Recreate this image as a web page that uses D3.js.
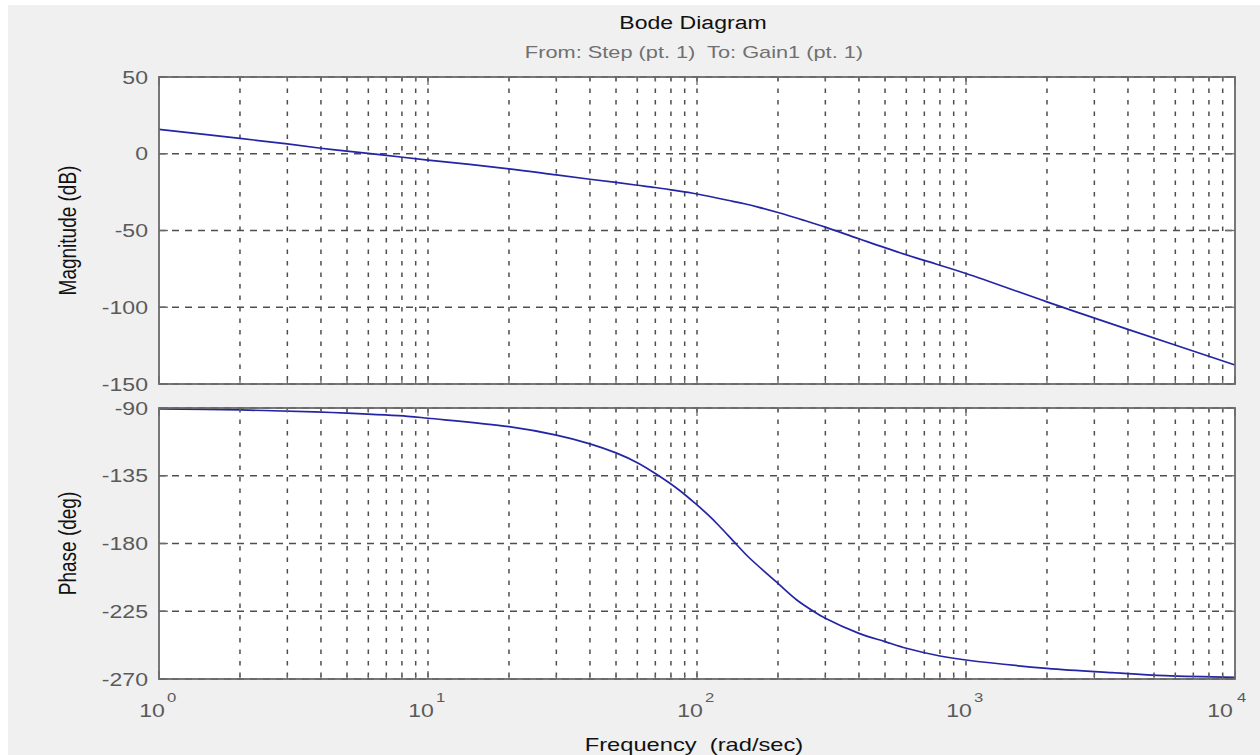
<!DOCTYPE html>
<html>
<head>
<meta charset="utf-8">
<script src="https://cdn.jsdelivr.net/npm/d3@7"></script>
<style>
  html, body { margin: 0; padding: 0; background: #ffffff; }
  svg { display: block; font-family: "Liberation Sans", Arial, sans-serif; }
</style>
</head>
<body>
<svg id="chart" width="1260" height="755"></svg>
<script>
// ---------------- data ----------------
const freqMag = [1, 2, 3, 4, 5, 7, 10, 20, 30, 40, 50, 60, 70, 80, 100, 136, 150, 170, 200, 250, 300, 400, 568, 700, 1000, 2000, 4000, 10000];
const magDb   = [15.9, 10.0, 6.4, 3.6, 1.7, -1.1, -4.1, -9.8, -13.8, -16.6, -18.7, -20.5, -22.0, -23.5, -26.2, -31.0, -32.6, -34.9, -38.3, -43.4, -47.8, -55.4, -64.5, -69.5, -78.0, -96.5, -114.4, -137.6];

const freqPh   = [1, 2, 3.8, 5, 8.4, 10, 20, 30, 40, 50, 60, 70, 86, 100, 110, 120, 140, 155, 200, 235, 270, 300, 400, 500, 600, 800, 1000, 2000, 3500, 5500, 10000];
const phaseDeg = [-90.6, -91.3, -92.6, -93.4, -95.5, -96.8, -102.4, -108.0, -113.8, -119.8, -126.3, -133.5, -144.6, -154.4, -161.0, -167.7, -180.5, -188.8, -206.5, -217.5, -224.8, -229.7, -239.7, -245.2, -249.6, -254.7, -257.4, -262.9, -265.8, -267.8, -268.9];

const magTicks   = [50, 0, -50, -100, -150];
const phaseTicks = [-90, -135, -180, -225, -270];
const decadeExps = [0, 1, 2, 3, 4];

const titleText    = "Bode Diagram";
const subtitleText = "From: Step (pt. 1)  To: Gain1 (pt. 1)";
const magLabel     = "Magnitude (dB)";
const phaseLabel   = "Phase (deg)";
const xLabel       = "Frequency  (rad/sec)";

// ---------------- layout ----------------
const L = 159, R = 1235;
const magTop = 77, magBot = 384;
const phTop = 408, phBot = 679;
const STRETCH = 1.28;
const gridColor = "#4e4e4e";
const frameColor = "#6a6a6a";
const tickTextColor = "#5a5a5a";
const curveColor = "#2424a6";

const svg = d3.select("#chart");

svg.append("rect").attr("x", 0).attr("y", 0).attr("width", 1260).attr("height", 755).attr("fill", "#ffffff");
svg.append("rect").attr("x", 8).attr("y", 5).attr("width", 1252).attr("height", 750).attr("fill", "#f0f0f0");

const x = d3.scaleLog().domain([1, 10000]).range([L, R]);
const yMag = d3.scaleLinear().domain([-150, 50]).range([magBot, magTop]);
const yPh = d3.scaleLinear().domain([-270, -90]).range([phBot, phTop]);

function stretch(sel, k) {
  sel.each(function () {
    const len = this.getComputedTextLength();
    d3.select(this).attr("textLength", len * k).attr("lengthAdjust", "spacingAndGlyphs");
  });
  return sel;
}

// all grid x positions: decades + minor 2..9
const gridX = [];
for (let e = 0; e < 4; e++) {
  for (let m = 1; m <= 9; m++) gridX.push(m * Math.pow(10, e));
}
gridX.push(10000);
const majorX = decadeExps.map(e => Math.pow(10, e));

function panel(yScale, top, bot, ticks, freqs, vals) {
  const g = svg.append("g");
  g.append("rect").attr("x", L).attr("y", top).attr("width", R - L).attr("height", bot - top).attr("fill", "#ffffff");

  // vertical grid
  g.selectAll("line.vg").data(gridX.filter(f => f > 1 && f < 10000)).enter().append("line")
    .attr("x1", d => x(d)).attr("x2", d => x(d))
    .attr("y1", top).attr("y2", bot)
    .attr("stroke", gridColor).attr("stroke-width", 1.5)
    .attr("stroke-dasharray", "4.5,7");

  // horizontal grid
  g.selectAll("line.hg").data(ticks).enter().append("line")
    .attr("x1", L).attr("x2", R)
    .attr("y1", d => yScale(d)).attr("y2", d => yScale(d))
    .attr("stroke", gridColor).attr("stroke-width", 1.5)
    .attr("stroke-dasharray", "7,6");

  // curve
  const pts = freqs.map((f, i) => ({ f: f, v: vals[i] }));
  const line = d3.line().x(d => x(d.f)).y(d => yScale(d.v)).curve(d3.curveCatmullRom.alpha(0.5));
  g.append("path").datum(pts).attr("d", line)
    .attr("fill", "none").attr("stroke", curveColor).attr("stroke-width", 1.7);

  // ticks (inward), bottom and top
  g.selectAll("line.tb").data(gridX).enter().append("line")
    .attr("x1", d => x(d)).attr("x2", d => x(d))
    .attr("y1", bot).attr("y2", d => bot - (majorX.includes(d) ? 8 : 4))
    .attr("stroke", frameColor).attr("stroke-width", 1.3);
  g.selectAll("line.tt").data(gridX).enter().append("line")
    .attr("x1", d => x(d)).attr("x2", d => x(d))
    .attr("y1", top).attr("y2", d => top + (majorX.includes(d) ? 8 : 4))
    .attr("stroke", frameColor).attr("stroke-width", 1.3);
  g.selectAll("line.tl").data(ticks).enter().append("line")
    .attr("x1", L).attr("x2", L + 9)
    .attr("y1", d => yScale(d)).attr("y2", d => yScale(d))
    .attr("stroke", frameColor).attr("stroke-width", 1.3);
  g.selectAll("line.tr").data(ticks).enter().append("line")
    .attr("x1", R).attr("x2", R - 9)
    .attr("y1", d => yScale(d)).attr("y2", d => yScale(d))
    .attr("stroke", frameColor).attr("stroke-width", 1.3);

  // frame
  g.append("rect").attr("x", L).attr("y", top).attr("width", R - L).attr("height", bot - top)
    .attr("fill", "none").attr("stroke", frameColor).attr("stroke-width", 1.8);

  // y tick labels
  const lab = g.selectAll("text.yl").data(ticks).enter().append("text")
    .attr("x", L - 11).attr("y", d => yScale(d) + 6.5)
    .attr("text-anchor", "end")
    .attr("font-size", 18).attr("fill", tickTextColor)
    .text(d => d3.format("d")(d).replace("−", "-"));
  stretch(lab, STRETCH);
}

panel(yMag, magTop, magBot, magTicks, freqMag, magDb);
panel(yPh, phTop, phBot, phaseTicks, freqPh, phaseDeg);

// x tick labels: 10^n
decadeExps.forEach((e, i) => {
  const px = x(Math.pow(10, e));
  const last = i === decadeExps.length - 1;
  const t = svg.append("text").attr("x", px - (last ? 15 : 7)).attr("y", 717)
    .attr("text-anchor", "middle").attr("font-size", 18).attr("fill", tickTextColor).text("10");
  stretch(t, STRETCH);
  const s = svg.append("text").attr("x", px + (last ? 2 : 8)).attr("y", 702)
    .attr("text-anchor", "start").attr("font-size", 13).attr("fill", tickTextColor).text(String(e));
  stretch(s, STRETCH);
});

// titles
stretch(svg.append("text").attr("x", 693).attr("y", 29).attr("text-anchor", "middle")
  .attr("font-size", 18).attr("fill", "#111111").text(titleText), STRETCH);
stretch(svg.append("text").attr("x", 694).attr("y", 58).attr("text-anchor", "middle")
  .attr("font-size", 17).attr("fill", "#707070").style("white-space", "pre").text(subtitleText), STRETCH);

// x label
stretch(svg.append("text").attr("x", 694).attr("y", 751).attr("text-anchor", "middle")
  .attr("font-size", 18.5).attr("fill", "#111111").style("white-space", "pre").text(xLabel), STRETCH);

// y labels (glyphs widened horizontally like the reference)
svg.append("text").attr("transform", "translate(75.5," + ((magTop + magBot) / 2) + ") scale(1.25,1) rotate(-90)")
  .attr("text-anchor", "middle").attr("font-size", 19).attr("fill", "#111111").text(magLabel);
svg.append("text").attr("transform", "translate(75.5," + ((phTop + phBot) / 2) + ") scale(1.25,1) rotate(-90)")
  .attr("text-anchor", "middle").attr("font-size", 19).attr("fill", "#111111").text(phaseLabel);
</script>
</body>
</html>
